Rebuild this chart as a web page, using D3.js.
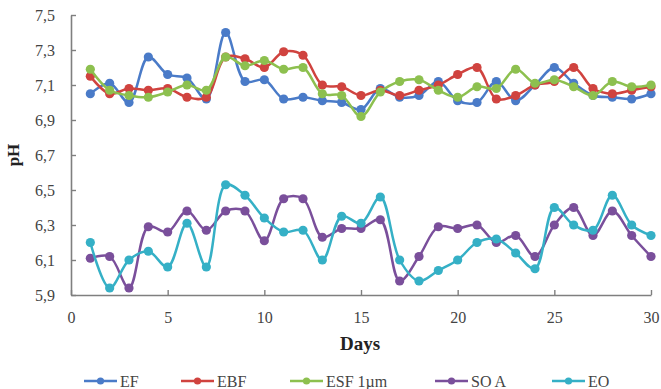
<!DOCTYPE html>
<html>
<head>
<meta charset="utf-8">
<script src="https://cdn.jsdelivr.net/npm/d3@7"></script>
<style>
    body { margin: 0; background: #fff; }
    svg text { font-family: "Liberation Serif", "Times New Roman", serif; }
</style>
</head>
<body>
<div id="chart"></div>
<script>
// Data
const days = d3.range(1, 31);
const seriesNames = ["EF", "EBF", "ESF 1µm", "SO A", "EO"];
const seriesColors = ["#4a7bc8", "#d0433f", "#8dc04f", "#7a4f9b", "#35b0c6"];

const EF  = [7.05, 7.11, 7.00, 7.26, 7.16, 7.14, 7.02, 7.40, 7.12, 7.13, 7.02, 7.03, 7.01, 7.00, 6.96,
             7.08, 7.03, 7.04, 7.12, 7.01, 7.00, 7.12, 7.01, 7.10, 7.20, 7.11, 7.04, 7.03, 7.02, 7.05];
const EBF = [7.15, 7.05, 7.08, 7.07, 7.08, 7.03, 7.03, 7.26, 7.25, 7.20, 7.29, 7.27, 7.10, 7.09, 7.04,
             7.07, 7.04, 7.07, 7.10, 7.16, 7.20, 7.02, 7.04, 7.10, 7.12, 7.20, 7.08, 7.05, 7.07, 7.09];
const ESF = [7.19, 7.07, 7.04, 7.03, 7.06, 7.10, 7.07, 7.26, 7.21, 7.24, 7.19, 7.20, 7.05, 7.04, 6.92,
             7.06, 7.12, 7.13, 7.07, 7.03, 7.09, 7.08, 7.19, 7.11, 7.13, 7.09, 7.04, 7.12, 7.09, 7.10];
const SOA = [6.11, 6.12, 5.94, 6.29, 6.26, 6.38, 6.27, 6.38, 6.38, 6.21, 6.45, 6.45, 6.23, 6.28, 6.28,
             6.33, 5.98, 6.12, 6.29, 6.28, 6.30, 6.20, 6.24, 6.12, 6.30, 6.40, 6.24, 6.38, 6.24, 6.12];
const EO  = [6.20, 5.94, 6.10, 6.15, 6.06, 6.31, 6.06, 6.53, 6.47, 6.34, 6.26, 6.27, 6.10, 6.35, 6.31,
             6.46, 6.10, 5.98, 6.04, 6.10, 6.20, 6.22, 6.14, 6.05, 6.40, 6.30, 6.27, 6.47, 6.30, 6.24];

const xTicks = [0, 5, 10, 15, 20, 25, 30];
const yTicks = [5.9, 6.1, 6.3, 6.5, 6.7, 6.9, 7.1, 7.3, 7.5];

const allSeries = [EF, EBF, ESF, SOA, EO];

// Layout
const WIDTH = 661, HEIGHT = 389;
const LEFT = 71, RIGHT = 651, TOP = 15, BOTTOM = 295;
const AXIS_COLOR = "#7f7f7f";
const TEXT_COLOR = "#444";
const SERIF = "'Liberation Serif', 'Times New Roman', serif";

const svg = d3.select("#chart").append("svg")
    .attr("width", WIDTH)
    .attr("height", HEIGHT);

const x = d3.scaleLinear().domain([0, 30]).range([LEFT, RIGHT]);
const y = d3.scaleLinear().domain([5.9, 7.5]).range([BOTTOM, TOP]);

// Axes (ticks point inwards)
const fmt = d3.format(".1f");
const xAxis = svg.append("g")
    .attr("transform", "translate(0," + BOTTOM + ")")
    .call(d3.axisBottom(x).tickValues(xTicks).tickSizeInner(-5).tickSizeOuter(0).tickPadding(17));

const yAxis = svg.append("g")
    .attr("transform", "translate(" + LEFT + ",0)")
    .call(d3.axisLeft(y).tickValues(yTicks).tickSizeInner(-5).tickSizeOuter(0).tickPadding(16)
        .tickFormat(d => fmt(d).replace(".", ",")));

[xAxis, yAxis].forEach(function (g) {
    g.attr("font-family", SERIF);
    g.select(".domain").attr("stroke", AXIS_COLOR).attr("stroke-width", 1.6);
    g.selectAll(".tick line").attr("stroke", AXIS_COLOR).attr("stroke-width", 1.4);
    g.selectAll(".tick text")
        .attr("fill", TEXT_COLOR)
        .style("font-family", SERIF)
        .style("font-size", "16px");
});

// Axis titles
svg.append("text")
    .attr("transform", "translate(19," + (TOP + BOTTOM) / 2 + ") rotate(-90)")
    .attr("text-anchor", "middle")
    .attr("font-weight", "bold")
    .attr("fill", "#222")
    .style("font-size", "17px")
    .text("pH");

svg.append("text")
    .attr("x", 360)
    .attr("y", 350)
    .attr("text-anchor", "middle")
    .attr("font-weight", "bold")
    .attr("fill", "#222")
    .style("font-size", "19px")
    .text("Days");

// Smoothed lines with markers
const line = d3.line()
    .x((d, i) => x(days[i]))
    .y(d => y(d))
    .curve(d3.curveCatmullRom.alpha(0.5));

const plot = svg.append("g");
allSeries.forEach(function (values, s) {
    const g = plot.append("g");
    g.append("path")
        .attr("d", line(values))
        .attr("fill", "none")
        .attr("stroke", seriesColors[s])
        .attr("stroke-width", 2.5);
    g.selectAll("circle")
        .data(values)
        .enter().append("circle")
            .attr("cx", (d, i) => x(days[i]))
            .attr("cy", d => y(d))
            .attr("r", 4.6)
            .attr("fill", seriesColors[s]);
});

// Legend
const legendX = [84, 181, 290, 435, 552];
const legend = svg.append("g").attr("transform", "translate(0,381)");
seriesNames.forEach(function (name, s) {
    const g = legend.append("g").attr("transform", "translate(" + legendX[s] + ",0)");
    g.append("line")
        .attr("x1", 0).attr("x2", 33)
        .attr("stroke", seriesColors[s])
        .attr("stroke-width", 2.4);
    g.append("circle")
        .attr("cx", 16.5)
        .attr("r", 3.6)
        .attr("fill", seriesColors[s]);
    g.append("text")
        .attr("x", 36)
        .attr("dy", "0.35em")
        .attr("fill", TEXT_COLOR)
        .style("font-size", "16px")
        .text(name);
});
</script>
</body>
</html>
